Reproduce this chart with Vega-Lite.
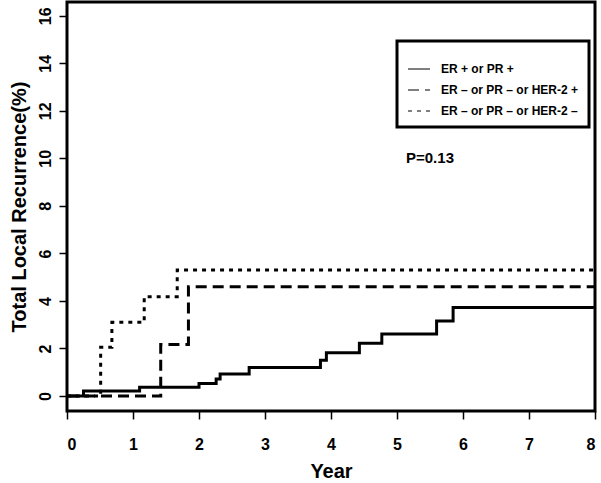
{
  "$schema": "https://vega.github.io/schema/vega-lite/v6.json",
  "width": 528,
  "height": 409,
  "autosize": {"type": "none"},
  "padding": {"left": 67, "top": 2, "right": 6, "bottom": 72},
  "background": "white",
  "config": {
    "view": {"stroke": "black", "strokeWidth": 3},
    "font": "Liberation Sans",
    "axis": {
      "domain": false,
      "grid": false,
      "ticks": true,
      "tickColor": "black",
      "tickWidth": 1.5,
      "tickSize": 8,
      "labelFont": "Liberation Sans",
      "labelFontWeight": "bold",
      "labelFontSize": 16,
      "labelColor": "black",
      "titleFont": "Liberation Sans",
      "titleFontWeight": "bold",
      "titleFontSize": 20,
      "titleColor": "black"
    },
    "legend": {"strokeWidth": 3}
  },
  "datasets": {
    "curves": [
      {"series": "ER + or PR +", "year": 0, "pct": 0},
      {"series": "ER + or PR +", "year": 0.25, "pct": 0.21},
      {"series": "ER + or PR +", "year": 1.10, "pct": 0.37},
      {"series": "ER + or PR +", "year": 2.00, "pct": 0.53},
      {"series": "ER + or PR +", "year": 2.26, "pct": 0.72},
      {"series": "ER + or PR +", "year": 2.32, "pct": 0.93},
      {"series": "ER + or PR +", "year": 2.76, "pct": 1.2},
      {"series": "ER + or PR +", "year": 3.84, "pct": 1.51},
      {"series": "ER + or PR +", "year": 3.93, "pct": 1.82},
      {"series": "ER + or PR +", "year": 4.43, "pct": 2.22},
      {"series": "ER + or PR +", "year": 4.77, "pct": 2.61},
      {"series": "ER + or PR +", "year": 5.60, "pct": 3.16},
      {"series": "ER + or PR +", "year": 5.85, "pct": 3.73},
      {"series": "ER + or PR +", "year": 8.0, "pct": 3.73},
      {"series": "ER – or PR – or HER-2 +", "year": 0, "pct": 0},
      {"series": "ER – or PR – or HER-2 +", "year": 1.42, "pct": 2.17},
      {"series": "ER – or PR – or HER-2 +", "year": 1.84, "pct": 4.6},
      {"series": "ER – or PR – or HER-2 +", "year": 8.0, "pct": 4.6},
      {"series": "ER – or PR – or HER-2 –", "year": 0, "pct": 0},
      {"series": "ER – or PR – or HER-2 –", "year": 0.51, "pct": 2.05},
      {"series": "ER – or PR – or HER-2 –", "year": 0.68, "pct": 3.1},
      {"series": "ER – or PR – or HER-2 –", "year": 1.17, "pct": 4.18},
      {"series": "ER – or PR – or HER-2 –", "year": 1.67, "pct": 5.3},
      {"series": "ER – or PR – or HER-2 –", "year": 8.0, "pct": 5.3}
    ],
    "note": [{"year": 5.5, "pct": 10, "label": "P=0.13"}]
  },
  "layer": [
    {
      "data": {"name": "curves"},
      "mark": {"type": "line", "interpolate": "step-after", "strokeWidth": 3, "color": "black", "strokeCap": "butt", "clip": true},
      "encoding": {
        "x": {
          "field": "year", "type": "quantitative",
          "scale": {"domain": [0, 8], "nice": false, "zero": false},
          "axis": {"values": [0, 1, 2, 3, 4, 5, 6, 7, 8], "format": "d", "title": "Year", "labelPadding": 17, "labelBaseline": "top", "titlePadding": 9}
        },
        "y": {
          "field": "pct", "type": "quantitative",
          "scale": {"domain": [-0.63, 16.58], "nice": false, "zero": false},
          "axis": {"values": [0, 2, 4, 6, 8, 10, 12, 14, 16], "format": "d", "title": "Total Local Recurrence(%)", "labelAngle": -90, "labelAlign": "center", "labelBaseline": "alphabetic", "labelPadding": 9, "titlePadding": 8}
        },
        "strokeDash": {
          "field": "series", "type": "nominal",
          "scale": {
            "domain": ["ER + or PR +", "ER – or PR – or HER-2 +", "ER – or PR – or HER-2 –"],
            "range": [[1, 0], [11, 6], [4, 5]]
          },
          "legend": {
            "title": " ",
            "titleFontSize": 6,
            "titlePadding": 0,
            "orient": "none",
            "legendX": 330,
            "legendY": 39,
            "padding": 10,
            "strokeColor": "black",
            "fillColor": "white",
            "symbolType": "stroke",
            "symbolSize": 484,
            "symbolStrokeWidth": 1.2,
            "symbolStrokeColor": "black",
            "labelFont": "Liberation Sans",
            "labelFontWeight": "bold",
            "labelFontSize": 12,
            "labelColor": "black",
            "labelOffset": 10,
            "rowPadding": 3,
            "labelLimit": 300,
            "encode": {
              "symbols": {
                "update": {
                  "strokeDash": {"signal": "datum.value == 'ER + or PR +' ? [1, 0] : datum.value == 'ER – or PR – or HER-2 +' ? [4, 3] : [1, 2]"}
                }
              }
            }
          }
        }
      }
    },
    {
      "data": {"name": "note"},
      "mark": {"type": "text", "font": "Liberation Sans", "fontWeight": "bold", "fontSize": 15, "color": "black", "align": "center", "baseline": "middle"},
      "encoding": {
        "x": {"field": "year", "type": "quantitative"},
        "y": {"field": "pct", "type": "quantitative"},
        "text": {"field": "label"}
      }
    }
  ]
}
